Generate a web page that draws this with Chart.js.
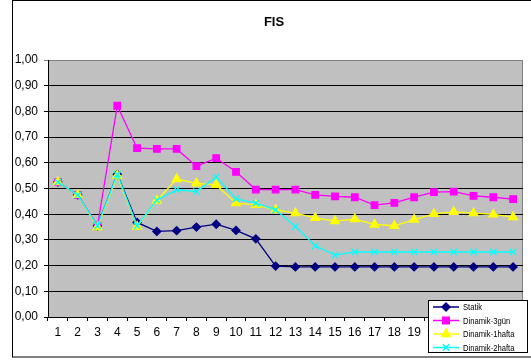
<!DOCTYPE html>
<html>
<head>
<meta charset="utf-8">
<script src="https://cdn.jsdelivr.net/npm/chart.js@4/dist/chart.umd.min.js"></script>
<style>
  body { margin: 0; background: #fff; }
</style>
</head>
<body>
<canvas id="mycanvas" width="531" height="360"></canvas>
<script>
var days = ["1","2","3","4","5","6","7","8","9","10","11","12","13","14","15","16","17","18","19","20","21","22","23","24"];

var statik = [0.525,0.475,0.355,0.555,0.368,0.333,0.336,0.350,0.361,0.337,0.304,0.198,0.195,0.195,0.195,0.195,0.195,0.195,0.195,0.195,0.195,0.195,0.195,0.195];
var dinamik3gun = [0.525,0.475,0.355,0.822,0.657,0.654,0.654,0.587,0.618,0.565,0.496,0.496,0.496,0.475,0.469,0.466,0.435,0.444,0.466,0.486,0.488,0.471,0.466,0.459];
var dinamik1hafta = [0.525,0.475,0.350,0.550,0.352,0.453,0.537,0.520,0.514,0.443,0.436,0.417,0.404,0.386,0.373,0.381,0.360,0.355,0.379,0.401,0.409,0.404,0.399,0.389];
var dinamik2hafta = [0.525,0.475,0.355,0.555,0.355,0.455,0.495,0.488,0.544,0.460,0.443,0.417,0.352,0.277,0.241,0.253,0.253,0.253,0.253,0.253,0.253,0.253,0.253,0.253];

var yTicks = [0,0.1,0.2,0.3,0.4,0.5,0.6,0.7,0.8,0.9,1.0];

var FONT = "'Liberation Sans', Arial, sans-serif";

// frame, plot background, title, legend box
var decor = {
	id: 'decor',
	beforeDraw: function(chart) {
		var ctx = chart.ctx;
		var a = chart.chartArea;
		ctx.save();
		ctx.fillStyle = "#c0c0c0";
		ctx.fillRect(a.left, a.top, a.right - a.left, a.bottom - a.top);
		ctx.strokeStyle = "#808080";
		ctx.lineWidth = 1;
		ctx.beginPath();
		ctx.moveTo(a.left, a.top + 0.5);
		ctx.lineTo(a.right - 0.5, a.top + 0.5);
		ctx.lineTo(a.right - 0.5, a.bottom);
		ctx.stroke();
		ctx.strokeStyle = "#000";
		ctx.strokeRect(12.5, 0.5, 600, 356.5);
		ctx.fillStyle = "#000";
		ctx.font = "bold 13px " + FONT;
		ctx.textAlign = "center";
		ctx.textBaseline = "middle";
		ctx.fillText("FIS", 274, 22);
		ctx.restore();
	},
	afterDraw: function(chart) {
		var ctx = chart.ctx;
		var ds = chart.data.datasets;
		ctx.save();
		ctx.fillStyle = "#fff";
		ctx.fillRect(428, 300, 100, 53);
		ctx.strokeStyle = "#000";
		ctx.lineWidth = 1;
		ctx.strokeRect(428.5, 300.5, 99, 52);
		for (var i = 0; i < ds.length; i++) {
			var y = 307 + i * 13.5;
			ctx.strokeStyle = ds[i].borderColor;
			ctx.lineWidth = 1.5;
			ctx.beginPath();
			ctx.moveTo(433, y);
			ctx.lineTo(459, y);
			ctx.stroke();
			ctx.fillStyle = ds[i].pointBackgroundColor;
			ctx.strokeStyle = ds[i].borderColor;
			Chart.helpers.drawPoint(ctx, {
				pointStyle: ds[i].pointStyle,
				radius: ds[i].pointRadius,
				rotation: 0,
				borderWidth: 1.5
			}, 446, y);
			ctx.save();
			ctx.translate(463, y);
			ctx.scale(0.85, 1);
			ctx.fillStyle = "#000";
			ctx.font = "9px " + FONT;
			ctx.textAlign = "left";
			ctx.textBaseline = "middle";
			ctx.fillText(ds[i].label, 0, 1);
			ctx.restore();
		}
		ctx.restore();
	}
};

var chartdata = {
	labels: days,
	datasets: [
		{
			label: "Statik",
			data: statik,
			order: 4,
			borderColor: "#000080",
			backgroundColor: "#000080",
			pointBackgroundColor: "#000080",
			pointStyle: "rectRot",
			pointRadius: 4,
			borderWidth: 1.3
		},
		{
			label: "Dinamik-3gün",
			data: dinamik3gun,
			order: 3,
			borderColor: "#ff00ff",
			backgroundColor: "#ff00ff",
			pointBackgroundColor: "#ff00ff",
			pointStyle: "rect",
			pointRadius: 4.6,
			borderWidth: 1.3
		},
		{
			label: "Dinamik-1hafta",
			data: dinamik1hafta,
			order: 2,
			borderColor: "#ffff00",
			backgroundColor: "#ffff00",
			pointBackgroundColor: "#ffff00",
			pointStyle: "triangle",
			pointRadius: 5,
			borderWidth: 1.3
		},
		{
			label: "Dinamik-2hafta",
			data: dinamik2hafta,
			order: 1,
			borderColor: "#00ffff",
			backgroundColor: "#00ffff",
			pointBackgroundColor: "#00ffff",
			pointStyle: "crossRot",
			pointRadius: 4.5,
			borderWidth: 1.3
		}
	]
};

var ctx = document.getElementById("mycanvas");

var LineGraph = new Chart(ctx, {
	type: 'line',
	data: chartdata,
	plugins: [decor],
	options: {
		responsive: false,
		animation: false,
		devicePixelRatio: 1,
		layout: { padding: { left: 12, top: 60, right: 8, bottom: 0 } },
		elements: { line: { tension: 0 } },
		plugins: {
			legend: { display: false },
			title: { display: false },
			tooltip: { enabled: false }
		},
		scales: {
			x: {
				offset: true,
				afterFit: function(s) { s.height = 43; },
				grid: { offset: true, drawOnChartArea: false, tickLength: 4, color: "#000" },
				border: { color: "#000", width: 1 },
				ticks: { color: "#000", font: { family: FONT, size: 12 }, padding: 4, maxRotation: 0, autoSkip: false }
			},
			y: {
				min: 0,
				max: 1,
				afterFit: function(s) { s.width = 36; },
				afterBuildTicks: function(s) {
					s.ticks = yTicks.map(function(v) { return { value: v }; });
				},
				grid: {
					color: function(c) { return c.tick && c.tick.value === 1 ? "#808080" : "#000"; },
					tickLength: 4
				},
				border: { color: "#000", width: 1 },
				ticks: {
					color: "#000",
					font: { family: FONT, size: 12 },
					padding: 6,
					callback: function(v) { return v.toFixed(2).replace(".", ","); }
				}
			}
		}
	}
});
</script>
</body>
</html>
